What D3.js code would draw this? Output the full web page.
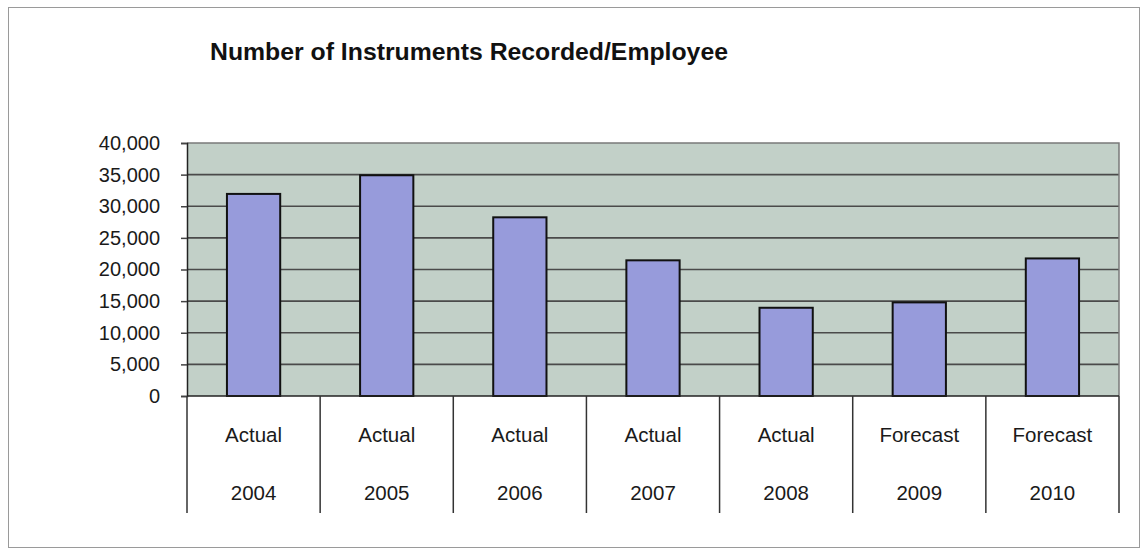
<!DOCTYPE html>
<html>
<head>
<meta charset="utf-8">
<script src="https://cdn.jsdelivr.net/npm/d3@7"></script>
<style>
  html, body { margin: 0; padding: 0; background: #fff; }
  svg { display: block; font-family: "Liberation Sans", Arial, sans-serif; }
</style>
</head>
<body>
<svg id="chart" width="1146" height="552"></svg>
<script>
// Instruments recorded per employee, by year
const years = ["2004", "2005", "2006", "2007", "2008", "2009", "2010"];
const kinds = ["Actual", "Actual", "Actual", "Actual", "Actual", "Forecast", "Forecast"];
const values = [31950, 34900, 28250, 21450, 13950, 14800, 21750];
const yTicks = [0, 5000, 10000, 15000, 20000, 25000, 30000, 35000, 40000];
const title = "Number of Instruments Recorded/Employee";

const svg = d3.select("#chart");
const plot = { left: 187, right: 1119, top: 143, bottom: 396 };

// outer frame
svg.append("rect")
  .attr("x", 8.5).attr("y", 7.5)
  .attr("width", 1131).attr("height", 540)
  .attr("fill", "#fff").attr("stroke", "#9a9a9a").attr("stroke-width", 1);

svg.append("text")
  .attr("x", 210).attr("y", 60)
  .attr("font-size", 23.5).attr("font-weight", "bold").attr("fill", "#111")
  .attr("textLength", 518).attr("lengthAdjust", "spacingAndGlyphs")
  .text(title);

const x = d3.scaleBand().domain(years).range([plot.left, plot.right]).paddingInner(0.6).paddingOuter(0.3);
const xCat = d3.scaleBand().domain(years).range([plot.left, plot.right]);
const y = d3.scaleLinear().domain([0, 40000]).range([plot.bottom, plot.top]);

// plot area background
svg.append("rect")
  .attr("x", plot.left).attr("y", plot.top)
  .attr("width", plot.right - plot.left).attr("height", plot.bottom - plot.top)
  .attr("fill", "#c2d0c8");

// gridlines
svg.append("g").selectAll("line")
  .data(yTicks.filter(d => d > 0 && d < 40000))
  .join("line")
  .attr("x1", plot.left).attr("x2", plot.right)
  .attr("y1", d => y(d)).attr("y2", d => y(d))
  .attr("stroke", "#4a4a4a").attr("stroke-width", 1.6);

// plot area border (top, right)
svg.append("path")
  .attr("d", `M${plot.left},${plot.top}H${plot.right}V${plot.bottom}`)
  .attr("fill", "none").attr("stroke", "#7a7a7a").attr("stroke-width", 1.5);

// bars
svg.append("g").selectAll("rect")
  .data(values)
  .join("rect")
  .attr("x", (d, i) => x(years[i]))
  .attr("y", d => y(d))
  .attr("width", x.bandwidth())
  .attr("height", d => y(0) - y(d))
  .attr("fill", "#979bdb")
  .attr("stroke", "#111").attr("stroke-width", 2);

// y axis
const yAxis = svg.append("g")
  .attr("transform", `translate(${plot.left},0)`)
  .call(d3.axisLeft(y).tickValues(yTicks).tickSize(6).tickPadding(21)
    .tickFormat(d3.format(",")));
yAxis.select(".domain").attr("stroke", "#222").attr("stroke-width", 1.5);
yAxis.selectAll(".tick line").attr("stroke", "#444").attr("stroke-width", 1.5);
yAxis.selectAll(".tick text")
  .attr("font-size", 20).attr("fill", "#1a1a1a")
  .attr("font-family", "'Liberation Sans', Arial, sans-serif");

// x axis baseline
svg.append("line")
  .attr("x1", plot.left).attr("x2", plot.right)
  .attr("y1", plot.bottom).attr("y2", plot.bottom)
  .attr("stroke", "#222").attr("stroke-width", 1.5);

// category separators
const bounds = years.map(d => xCat(d)).concat([plot.right]);
svg.append("g").selectAll("line")
  .data(bounds)
  .join("line")
  .attr("x1", d => d).attr("x2", d => d)
  .attr("y1", plot.bottom).attr("y2", 513)
  .attr("stroke", "#333").attr("stroke-width", 1.5);

// two-level category labels
const labels = svg.append("g").attr("font-size", 20.5).attr("fill", "#1a1a1a").attr("text-anchor", "middle");
labels.selectAll("text.kind")
  .data(kinds)
  .join("text")
  .attr("class", "kind")
  .attr("x", (d, i) => xCat(years[i]) + xCat.bandwidth() / 2)
  .attr("y", 442)
  .text(d => d);
labels.selectAll("text.year")
  .data(years)
  .join("text")
  .attr("class", "year")
  .attr("x", d => xCat(d) + xCat.bandwidth() / 2)
  .attr("y", 499.5)
  .text(d => d);
</script>
</body>
</html>
